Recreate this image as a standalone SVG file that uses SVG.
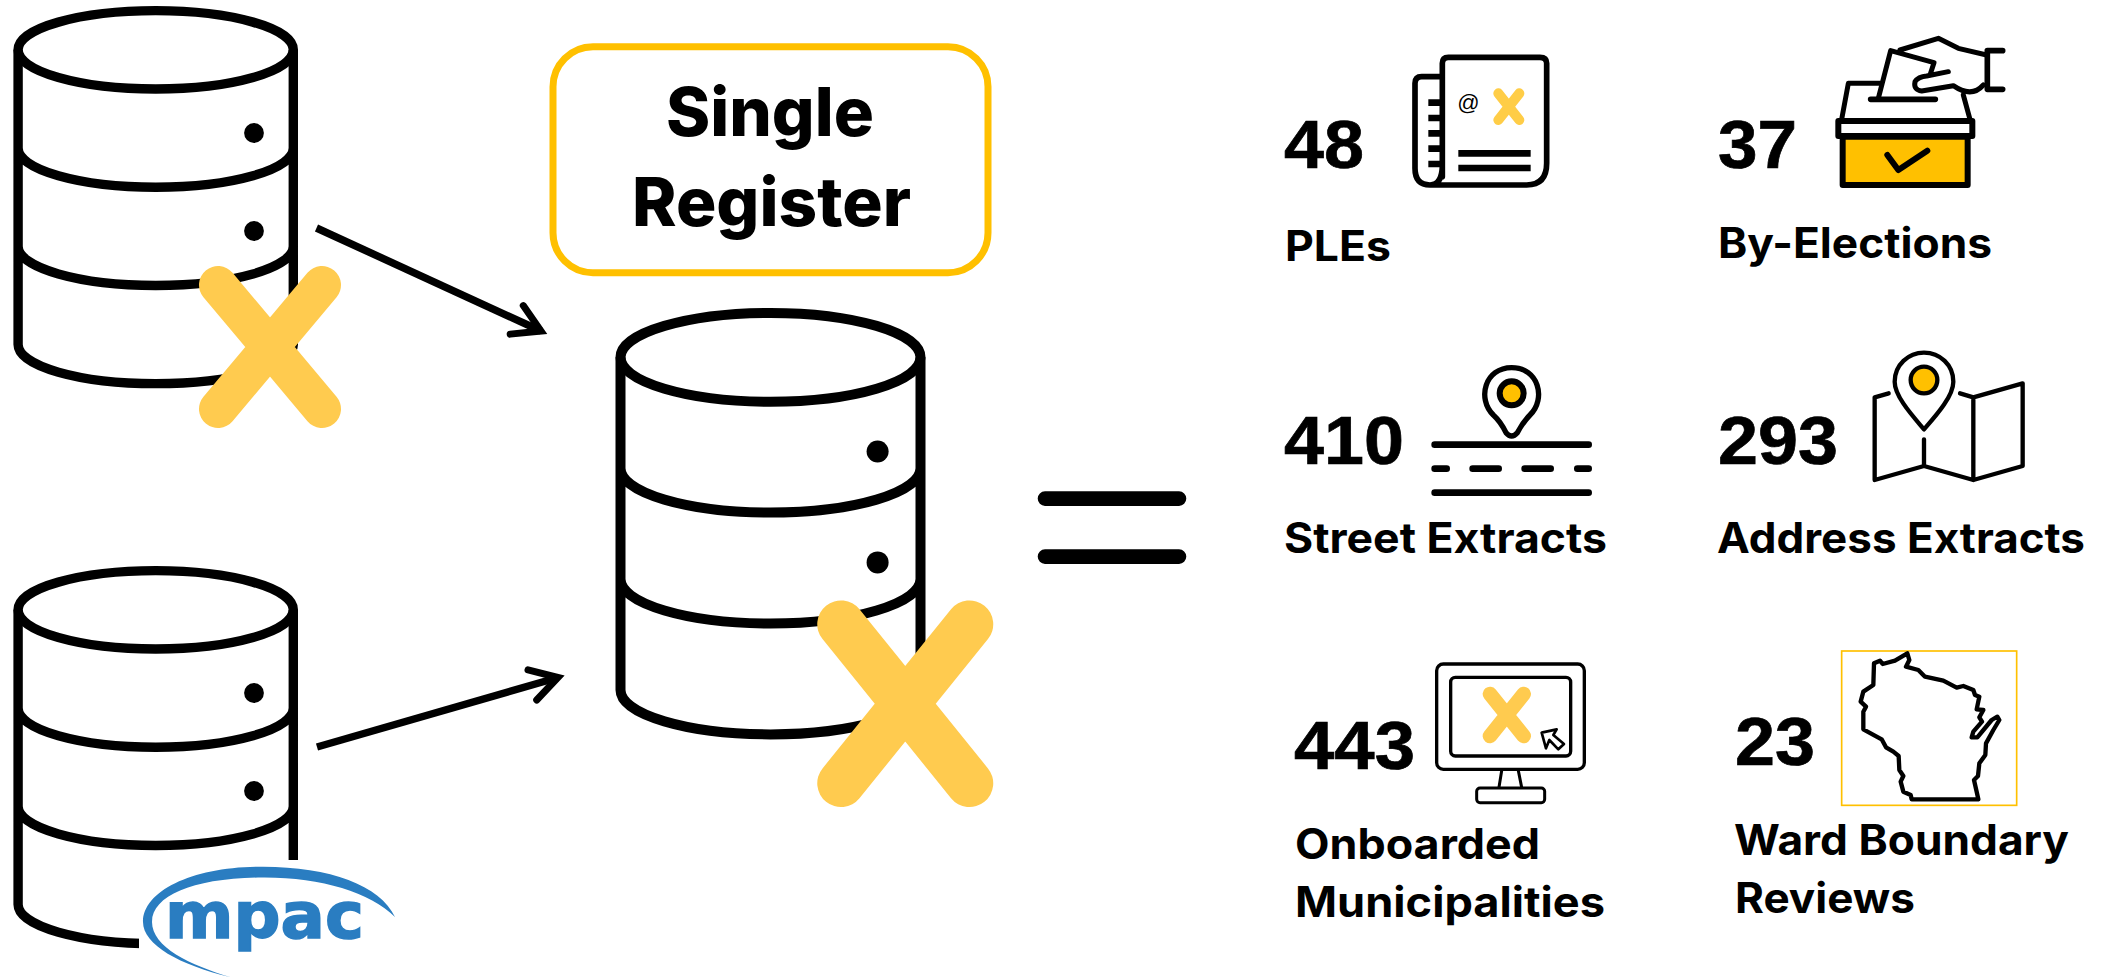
<svg xmlns="http://www.w3.org/2000/svg" width="2115" height="978" viewBox="0 0 2115 978">
<style>
.cyl{fill:none;stroke:#000;stroke-width:9.4}
.dot{fill:#000;stroke:none}
.x{fill:none;stroke:#FFCB4F;stroke-linecap:round}
.num{font-family:"Liberation Sans",Arial,sans-serif;font-weight:700;font-size:69px;fill:#000;stroke:#000;stroke-width:.7}
.lab{font-family:Inter,"Liberation Sans",sans-serif;font-weight:700;font-size:42px;fill:#000}
.title{font-family:Inter,"Liberation Sans",sans-serif;font-weight:800;font-size:67px;fill:#000}
.ln{fill:none;stroke:#000;stroke-linecap:round;stroke-linejoin:round}
.arrow{fill:none;stroke:#000;stroke-width:7.5;marker-end:url(#open)}
</style>
<defs>
<marker id="open" markerUnits="userSpaceOnUse" markerWidth="60" markerHeight="60" refX="40" refY="30" orient="auto" overflow="visible">
<path d="M13.3,14.3 L40,30 L13.3,45.7" fill="none" stroke="#000" stroke-width="7" stroke-linecap="round" stroke-linejoin="miter"/>
</marker>
<g id="cyl">
<ellipse class="cyl" cx="155.7" cy="49.85" rx="137.6" ry="39.2"/>
<path class="cyl" d="M18.1,49.85V344.45A137.6,39.2 0 0 0 293.3,344.45V49.85M18.1,148.05A137.6,39.2 0 0 0 293.3,148.05M18.1,246.25A137.6,39.2 0 0 0 293.3,246.25"/>
<circle class="dot" cx="254" cy="133" r="9.9"/>
<circle class="dot" cx="254" cy="231" r="9.9"/>
</g>
</defs>
<rect width="2115" height="978" fill="#fff"/>

<g id="db-top">
<use href="#cyl"/>
<path class="x" stroke-width="38" d="M218,285L322,409M322,285L218,409"/>
</g>

<g id="db-mpac">
<use href="#cyl" transform="translate(0,560)"/>
<rect x="139" y="860" width="270" height="118" fill="#fff"/>
<path fill="#2A7DC1" d="M230,977C180,965 143,945 143,922C143,890 195,866 263,866.7C330,867 380,885 395,917C370,892 320,877 262,877.5C195,878 152,895 152,922C152,947 190,965 230,977Z"/>
<text x="165" y="938" font-family="'DejaVu Sans',sans-serif" font-weight="700" font-size="64" fill="#2A7DC1" stroke="#2A7DC1" stroke-width="1.5" textLength="199" lengthAdjust="spacingAndGlyphs">mpac</text>
</g>

<g id="single-register">
<rect x="553" y="46.7" width="435" height="226" rx="40" fill="#fff" stroke="#FFC000" stroke-width="7"/>
<text class="title" x="666" y="136" textLength="208" lengthAdjust="spacingAndGlyphs">Single</text>
<text class="title" x="632" y="225.5" textLength="279" lengthAdjust="spacingAndGlyphs">Register</text>
</g>

<g id="db-center">
<ellipse cx="770.5" cy="357.3" rx="150" ry="44.4" fill="none" stroke="#000" stroke-width="10"/>
<path fill="none" stroke="#000" stroke-width="10" d="M620.5,357.3V690A150,44.4 0 0 0 920.5,690V357.3M620.5,468.2A150,44.4 0 0 0 920.5,468.2M620.5,579.1A150,44.4 0 0 0 920.5,579.1"/>
<circle class="dot" cx="877.6" cy="451.5" r="11"/>
<circle class="dot" cx="877.6" cy="562.4" r="11"/>
<path class="x" stroke-width="47.5" d="M841,624.2L969.5,783.3M969.5,624.2L841,783.3"/>
</g>

<g id="connectors">
<path class="arrow" d="M316.5,228L541,331"/>
<path class="arrow" d="M317,747L558,677.5"/>
</g>

<g id="equals">
<path class="ln" stroke-width="14.6" d="M1045,498.6H1179M1045,556.6H1179"/>
</g>

<g id="ples">
<text class="num" x="1284" y="167.7" textLength="80" lengthAdjust="spacingAndGlyphs">48</text>
<text class="lab" x="1285" y="260.7" textLength="106" lengthAdjust="spacingAndGlyphs">PLEs</text>
<g transform="translate(1260,20) scale(.33333)">
<path class="ln" stroke-width="17" d="M547,470V130Q547,112 565,112H840Q860,112 860,130V430Q860,495 800,495H510Q465,495 465,445V190Q465,170 485,170H547M547,440Q545,495 510,495"/>
<path d="M505,248H547M505,294H547M505,340H547M505,386H547M505,432H547M595,400H812M595,444H812" fill="none" stroke="#000" stroke-width="20"/>
<text x="592" y="270" font-family="'Liberation Sans',sans-serif" font-size="66">@</text>
<path style="stroke:#FFCD47" class="x" stroke-width="30" d="M715,220L778,300M778,220L715,300"/>
</g>
</g>

<g id="by-elections">
<text class="num" x="1718" y="168" textLength="79" lengthAdjust="spacingAndGlyphs">37</text>
<text class="lab" x="1718" y="258.3" textLength="274" lengthAdjust="spacingAndGlyphs">By-Elections</text>
<g transform="translate(1700,20) scale(.33333)">
<rect x="428" y="350" width="375" height="145" fill="#FFC000" stroke="#000" stroke-width="18" stroke-linejoin="round"/>
<rect x="415" y="303" width="402" height="45" fill="#fff" stroke="#000" stroke-width="18" stroke-linejoin="round"/>
<path class="ln" stroke-width="15" d="M425,298L445,190H540M790,225L810,298"/>
<path class="ln" stroke-width="15" d="M535,235L572,92L702,128L690,165M600,90L715,55L775,85L860,105M850,195Q815,235 760,197L665,213Q640,210 645,185Q655,170 680,168L745,155"/>
<path class="ln" stroke-width="17" d="M512,238H706M862,92V208M862,92H908M862,208H908"/>
<path class="ln" stroke-width="18" d="M562,405L595,450L682,392"/>
</g>
</g>

<g id="street-extracts">
<text class="num" x="1284" y="464" textLength="120" lengthAdjust="spacingAndGlyphs">410</text>
<text class="lab" x="1284" y="553.3" textLength="323" lengthAdjust="spacingAndGlyphs">Street Extracts</text>
<g transform="translate(1260,340) scale(.33333)">
<path class="ln" stroke-width="20" d="M524,314H986M524,458H986M524,386H560M638,386H716M794,386H872M952,386H986"/>
<path d="M738,278Q722,245 700,225C650,175 675,83 755,83C835,83 860,175 810,225Q790,245 772,278Q755,298 738,278Z" fill="#fff" stroke="#000" stroke-width="16" stroke-linejoin="round"/>
<circle cx="755" cy="160" r="36" fill="#FFC000" stroke="#000" stroke-width="18"/>
</g>
</g>

<g id="address-extracts">
<text class="num" x="1718" y="464" textLength="120" lengthAdjust="spacingAndGlyphs">293</text>
<text class="lab" x="1717" y="553.3" textLength="368" lengthAdjust="spacingAndGlyphs">Address Extracts</text>
<g transform="translate(1700,340) scale(.33333)">
<path class="ln" stroke-width="13" d="M566,160L524,172V420L672,378L820,420L968,378V130L820,172L780,160M820,172V420M672,298V378"/>
<path d="M672,268C640,230 584,170 584,125C584,75 625,38 672,38C720,38 760,75 760,125C760,170 705,230 672,268Z" fill="#fff" stroke="#000" stroke-width="13" stroke-linejoin="round"/>
<circle cx="672" cy="120" r="40" fill="#FFC000" stroke="#000" stroke-width="13"/>
</g>
</g>

<g id="onboarded">
<text class="num" x="1294" y="769.3" textLength="121" lengthAdjust="spacingAndGlyphs">443</text>
<text class="lab" x="1295" y="859.3" textLength="245" lengthAdjust="spacingAndGlyphs">Onboarded</text>
<text class="lab" x="1295" y="917.3" textLength="310" lengthAdjust="spacingAndGlyphs">Municipalities</text>
<g transform="translate(1270,640) scale(.33333)">
<rect x="500" y="72" width="443" height="316" rx="20" fill="#fff" stroke="#000" stroke-width="10"/>
<rect x="542" y="112" width="360" height="236" rx="14" fill="#fff" stroke="#000" stroke-width="10"/>
<path class="ln" stroke-width="9" d="M695,392L687,442M745,392L755,442"/>
<rect x="620" y="444" width="204" height="44" rx="10" fill="#fff" stroke="#000" stroke-width="9"/>
<path class="x" stroke-width="44" d="M660,162L761,288M761,162L660,288"/>
<path d="M815,278L860,268L850,285L882,312L865,328L838,300L828,325Z" fill="#fff" stroke="#000" stroke-width="8" stroke-linejoin="round"/>
</g>
</g>

<g id="ward-boundary">
<text class="num" x="1735" y="765" textLength="80" lengthAdjust="spacingAndGlyphs">23</text>
<text class="lab" x="1734" y="855" textLength="335" lengthAdjust="spacingAndGlyphs">Ward Boundary</text>
<text class="lab" x="1735" y="912.7" textLength="180" lengthAdjust="spacingAndGlyphs">Reviews</text>
<g transform="translate(1700,640) scale(.33333)">
<rect x="425" y="33" width="525" height="463" fill="none" stroke="#FFC000" stroke-width="5"/>
<path class="ln" stroke-width="13" d="M522,70L540,62L548,72L585,62L622,40L628,60L618,80L655,90L675,110L730,122L770,143L790,138L820,150L825,165L838,170L830,208L850,210L838,232L846,245L820,275L815,292L832,292L875,240L892,230L898,240L880,270L858,310L856,345L838,370L834,408L822,420L830,455L835,478L635,478L632,465L610,455L602,425L610,408L598,390L596,348L580,335L558,322L545,298L490,268L490,215L498,200L482,185L490,155L520,135Z"/>
</g>
</g>
</svg>
